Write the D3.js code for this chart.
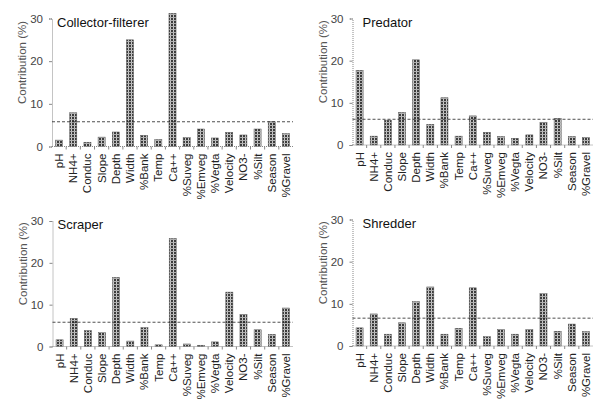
<!DOCTYPE html>
<html lang="en">
<head>
  <meta charset="UTF-8">
  <title>Contribution by functional group</title>
  <style>
    body { margin: 0; background: #fff; }
    svg { display: block; font-family: "Liberation Sans", Arial, sans-serif; }
  </style>
</head>
<body>
<script src="https://d3js.org/d3.v7.min.js"></script>
<script>
  // values
  const categories = ["pH", "NH4+", "Conduc", "Slope", "Depth", "Width", "%Bank", "Temp", "Ca++",
    "%Suveg", "%Emveg", "%Vegta", "Velocity", "NO3-", "%Silt", "Season", "%Gravel"];
  const collectorFilterer = [1.5, 7.9, 1.0, 2.2, 3.4, 25.0, 2.6, 1.6, 31.2, 2.1, 4.1, 2.0, 3.3, 2.7, 4.1, 5.8, 3.0];
  const predator = [17.7, 2.1, 5.9, 7.7, 20.2, 4.9, 11.2, 2.1, 6.9, 3.0, 2.0, 1.6, 2.4, 5.4, 6.3, 2.0, 1.8];
  const scraper = [1.6, 6.7, 3.8, 3.3, 16.5, 1.3, 4.5, 0.4, 25.8, 0.6, 0.3, 1.1, 13.0, 7.7, 4.0, 2.9, 9.2];
  const shredder = [4.3, 7.6, 2.8, 5.5, 10.5, 14.0, 2.8, 4.2, 13.8, 2.2, 3.9, 2.8, 3.9, 12.4, 3.5, 5.2, 3.4];
  const groupNames = ["Collector-filterer", "Predator", "Scraper", "Shredder"];
  const thresholds = [5.8, 6.1, 5.8, 6.6];
  const yTicks = [0, 10, 20, 30];

  const series = [collectorFilterer, predator, scraper, shredder];

  // panel boxes (axis x, right end, y of 30, y of 0)
  const boxes = [
    {x0: 52, x1: 293, yTop: 18.5, yBot: 146.5},
    {x0: 352.5, x1: 593, yTop: 18.5, yBot: 145},
    {x0: 52.5, x1: 293, yTop: 221, yBot: 346.5},
    {x0: 352.5, x1: 593, yTop: 219.5, yBot: 346}
  ];

  const svg = d3.select("body").append("svg")
      .attr("width", 595)
      .attr("height", 399);

  const defs = svg.append("defs");
  const pat = defs.append("pattern")
      .attr("id", "grid")
      .attr("patternUnits", "userSpaceOnUse")
      .attr("width", 3)
      .attr("height", 3);
  pat.append("rect").attr("width", 3).attr("height", 3).attr("fill", "#3c3c3c");
  pat.append("rect").attr("x", 2).attr("width", 1).attr("height", 3).attr("fill", "#c8c8c8");
  pat.append("rect").attr("y", 2).attr("width", 3).attr("height", 1).attr("fill", "#b0b0b0");

  series.forEach(function(values, i) {
    const b = boxes[i];
    const g = svg.append("g");

    const x = d3.scaleBand()
        .domain(categories)
        .range([b.x0, b.x1])
        .paddingInner(0.5)
        .paddingOuter(0.25);

    const y = d3.scaleLinear()
        .domain([0, 30])
        .range([b.yBot, b.yTop]);

    // bars
    g.selectAll("rect.bar")
        .data(values)
        .join("rect")
        .attr("class", "bar")
        .attr("x", (d, j) => x(categories[j]))
        .attr("y", d => y(d))
        .attr("width", x.bandwidth())
        .attr("height", d => y(0) - y(d))
        .attr("fill", "url(#grid)")
        .attr("stroke", "#555")
        .attr("stroke-width", 0.5);

    // y axis
    const yAxis = g.append("g")
        .attr("transform", "translate(" + b.x0 + ",0)")
        .call(d3.axisLeft(y).tickValues(yTicks).tickSize(3).tickPadding(6));
    yAxis.select(".domain").attr("stroke", "#888").attr("stroke-dasharray", "1,1");
    yAxis.selectAll(".tick line").attr("stroke", "#888");
    yAxis.selectAll(".tick text")
        .attr("fill", "#444")
        .attr("font-size", 11.5)
        .attr("font-family", "Liberation Sans, Arial, sans-serif");

    // x axis (dotted, small ticks between categories)
    g.append("line")
        .attr("x1", b.x0).attr("x2", b.x1)
        .attr("y1", y(0)).attr("y2", y(0))
        .attr("stroke", "#888")
        .attr("stroke-dasharray", "1,1");
    g.selectAll("line.xtick")
        .data(categories.slice(1))
        .join("line")
        .attr("class", "xtick")
        .attr("x1", d => x(d) - x.step() * x.paddingInner() / 2)
        .attr("x2", d => x(d) - x.step() * x.paddingInner() / 2)
        .attr("y1", y(0))
        .attr("y2", y(0) + 3)
        .attr("stroke", "#888");

    // category labels
    g.selectAll("text.cat")
        .data(categories)
        .join("text")
        .attr("class", "cat")
        .attr("transform", d => "translate(" + (x(d) + x.bandwidth() / 2 + 4) + "," + (y(0) + 7) + ") rotate(-90)")
        .attr("text-anchor", "end")
        .attr("font-size", 11.5)
        .attr("fill", "#222")
        .text(d => d);

    // threshold line
    g.append("line")
        .attr("x1", b.x0).attr("x2", b.x1)
        .attr("y1", y(thresholds[i])).attr("y2", y(thresholds[i]))
        .attr("stroke", "#222")
        .attr("stroke-width", 0.8)
        .attr("stroke-dasharray", "3,2");

    // y title
    g.append("text")
        .attr("transform", "translate(" + (b.x0 - 26) + "," + ((b.yTop + b.yBot) / 2 - 20) + ") rotate(-90)")
        .attr("text-anchor", "middle")
        .attr("font-size", 11.5)
        .attr("fill", "#555")
        .text("Contribution (%)");

    // panel title
    g.append("text")
        .attr("x", b.x0 + (i % 2 === 0 ? 5 : 10))
        .attr("y", b.yTop + 8)
        .attr("font-size", 13)
        .attr("fill", "#111")
        .text(groupNames[i]);
  });
</script>
</body>
</html>
